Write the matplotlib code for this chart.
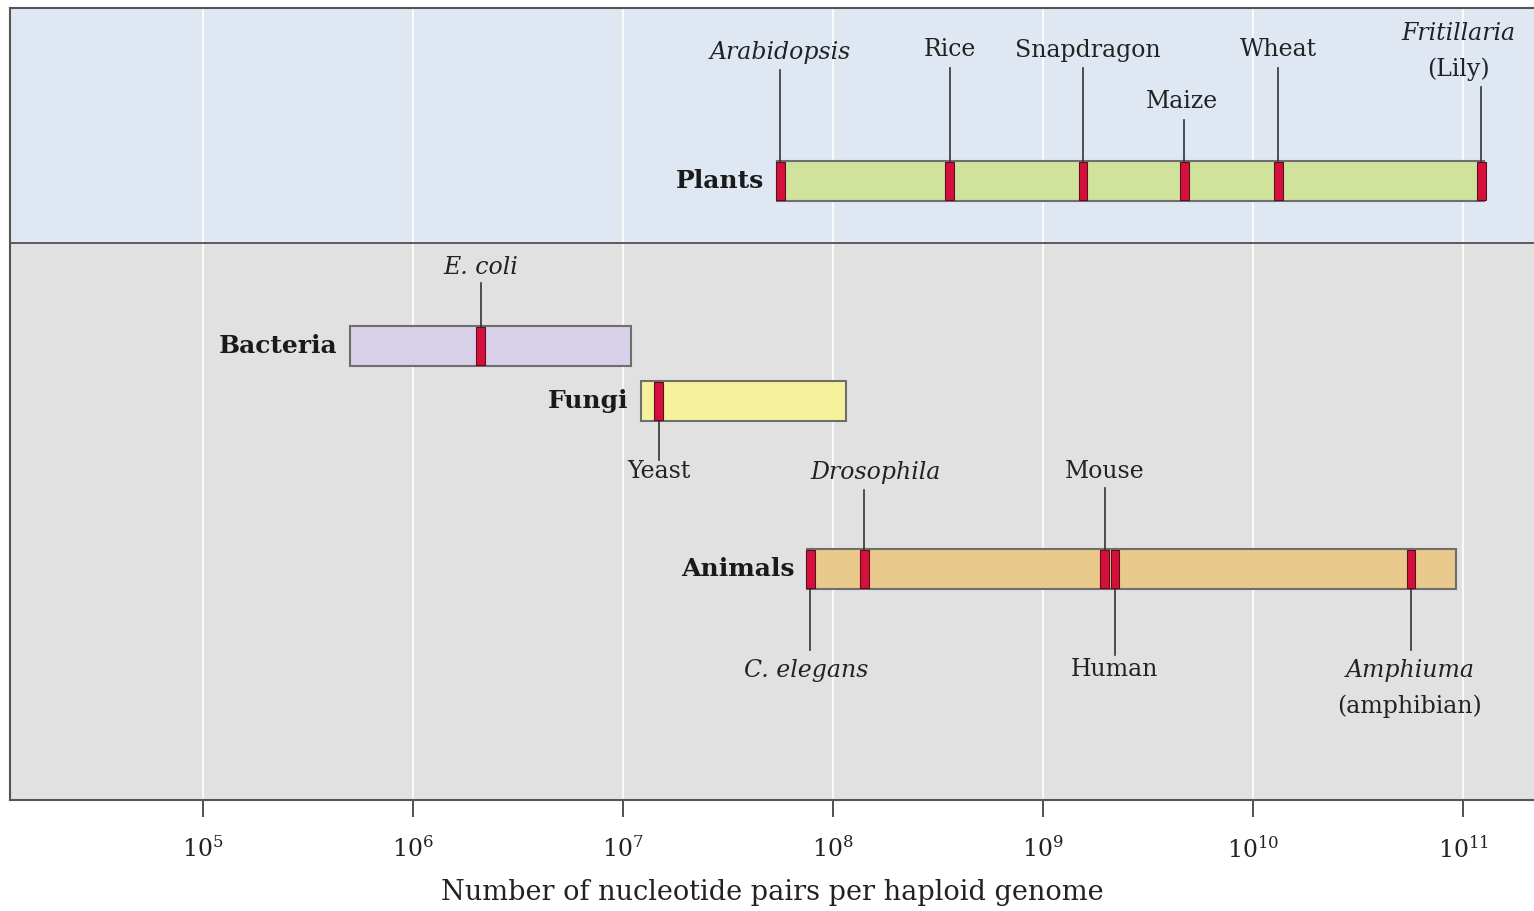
import numpy as np
import matplotlib
matplotlib.use("Agg")
import matplotlib.pyplot as plt

plt.rcParams['font.family'] = ['DejaVu Serif']
plt.rcParams['mathtext.fontset'] = 'dejavuserif'

# group ranges (nucleotide pairs per haploid genome)
groups = ['Plants', 'Bacteria', 'Fungi', 'Animals']
group_lo = [5.4e7, 5.0e5, 1.22e7, 7.5e7]
group_hi = [1.26e11, 1.09e7, 1.15e8, 9.3e10]
group_colors = ['#d0e29c', '#d8d0e8', '#f6f29c', '#e9c98c']

# species markers
species = ['Arabidopsis', 'Rice', 'Snapdragon', 'Maize', 'Wheat', 'Fritillaria',
           'E. coli', 'Yeast',
           'C. elegans', 'Drosophila', 'Mouse', 'Human', 'Amphiuma']
species_note = ['', '', '', '', '', '(Lily)',
                '', '',
                '', '', '', '', '(amphibian)']
species_group = [0, 0, 0, 0, 0, 0, 1, 2, 3, 3, 3, 3, 3]
species_size = [5.6e7, 3.6e8, 1.55e9, 4.7e9, 1.32e10, 1.22e11,
                2.1e6, 1.48e7,
                7.8e7, 1.41e8, 1.97e9, 2.2e9, 5.65e10]
species_italic = [True, False, False, False, False, True,
                  True, False,
                  True, True, False, False, True]

# layout (y in pixel-like units, top = 8, bottom = 800)
row_y = [181, 346, 401, 569]
bar_h = 40
# label text y, second line y, label x shift (px) and leader line end y
label_y = [52, 50, 50, 101, 50, 34, 267, 471, 670, 472, 471, 670, 670]
note_y = [0, 0, 0, 0, 0, 69, 0, 0, 0, 0, 0, 0, 706]
label_dx = [0, 0, 5, -2, 0, -23, 0, 0, -4, 11, 0, 0, -1]
line_end = [70, 68, 68, 120, 68, 87, 283, 460, 650, 490, 488, 655, 650]
px_per_decade = 210

fig = plt.figure(figsize=(15.34, 9.11), dpi=100)
ax = fig.add_axes([10 / 1534, 1 - 800 / 911, 1 - 10 / 1534, (800 - 8) / 911])

xmin, xmax = 10 ** 4.081, 10 ** 11.338
ax.set_xscale('log')
ax.set_xlim(xmin, xmax)
ax.set_ylim(800, 8)

# panel backgrounds
ax.axhspan(8, 243, color='#dfe8f2', zorder=0)
ax.axhspan(243, 800, color='#e1e1e1', zorder=0)
ax.axhline(243, color='#444444', lw=1.2, zorder=1)

decades = [1e5, 1e6, 1e7, 1e8, 1e9, 1e10, 1e11]
for d in decades:
    ax.axvline(d, color='white', lw=1.2, zorder=0.5)

# group bars
for i, g in enumerate(groups):
    ax.barh(row_y[i], group_hi[i] - group_lo[i], left=group_lo[i], height=bar_h,
            color=group_colors[i], edgecolor='#6e6e6e', lw=1.5, zorder=2)
    ax.text(group_lo[i] / 10 ** 0.06, row_y[i], g, ha='right', va='center',
            fontsize=18, fontweight='bold', color='#1a1a1a', zorder=3)

# red markers, leader lines and labels
half = 10 ** 0.021
for j, name in enumerate(species):
    v = species_size[j]
    y0 = row_y[species_group[j]]
    ax.barh(y0, v * half - v / half, left=v / half, height=bar_h - 2,
            color='#d6103c', edgecolor='#5a1020', lw=0.8, zorder=3)
    if line_end[j] < y0:
        ax.plot([v, v], [line_end[j], y0 - bar_h / 2], color='#333333', lw=1.2, zorder=2)
    else:
        ax.plot([v, v], [y0 + bar_h / 2, line_end[j]], color='#333333', lw=1.2, zorder=2)
    tx = v * 10 ** (label_dx[j] / px_per_decade)
    ax.text(tx, label_y[j], name, ha='center', va='center', fontsize=17,
            style='italic' if species_italic[j] else 'normal',
            color='#222222', zorder=3)
    if species_note[j]:
        ax.text(tx, note_y[j], species_note[j], ha='center', va='center',
                fontsize=17, color='#222222', zorder=3)

# axes styling
for s in ['left', 'top', 'bottom']:
    ax.spines[s].set_color('#555555')
    ax.spines[s].set_linewidth(1.5)
ax.spines['right'].set_visible(False)
ax.set_yticks([])
ax.set_xticks(decades)
ax.set_xticklabels([r'$10^{%d}$' % int(np.log10(d)) for d in decades], fontsize=17)
ax.minorticks_off()
ax.tick_params(axis='x', length=12, width=1.2, color='#333333', pad=14, labelcolor='#222222')
ax.set_xlabel('Number of nucleotide pairs per haploid genome', fontsize=19.5,
              color='#222222', labelpad=12)

fig.savefig('out.png', dpi=100)
